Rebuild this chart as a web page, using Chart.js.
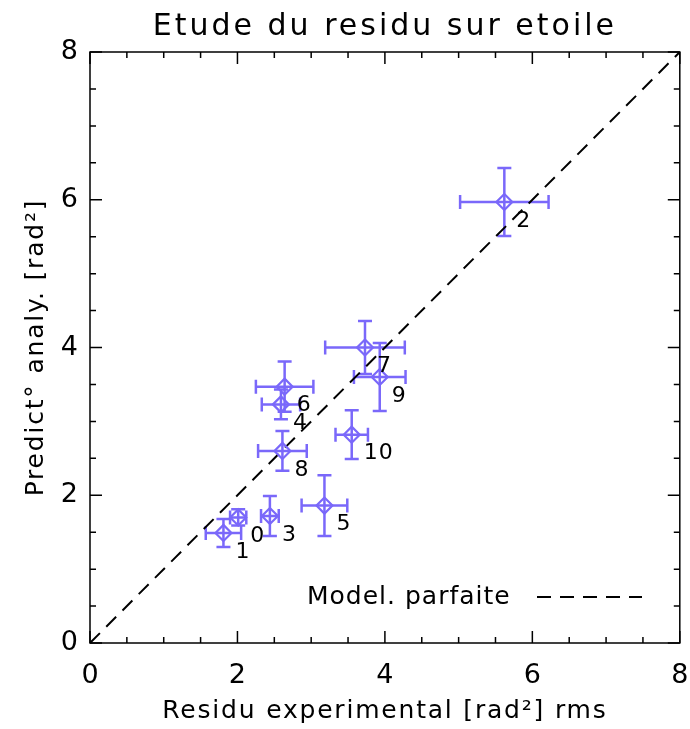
<!DOCTYPE html>
<html>
<head>
<meta charset="utf-8">
<script src="https://cdn.jsdelivr.net/npm/chart.js@4"></script>
<style>
  html, body { margin: 0; padding: 0; background: #fff; }
  #wrap { width: 690px; height: 729px; }
</style>
</head>
<body>
<div id="wrap"><canvas id="chart"></canvas></div>
<script>
// star index, measured residual (x), analytical prediction (y), error bars
const starIds = ['0', '1', '2', '3', '4', '5', '6', '7', '8', '9', '10'];
const residuX = [2.01, 1.81, 5.62, 2.44, 2.59, 3.18, 2.64, 3.73, 2.61, 3.93, 3.55];
const predictY = [1.70, 1.49, 5.97, 1.72, 3.23, 1.86, 3.47, 4.00, 2.60, 3.60, 2.82];
const errX = [0.11, 0.24, 0.60, 0.12, 0.26, 0.31, 0.39, 0.54, 0.33, 0.35, 0.22];
const errY = [0.11, 0.19, 0.46, 0.27, 0.20, 0.41, 0.34, 0.36, 0.27, 0.46, 0.33];
const perfectLine = [0, 8];
const majorTicks = [0, 2, 4, 6, 8];

const titleText = 'Etude du residu sur etoile';
const xTitle = 'Residu experimental [rad\u00B2] rms';
const yTitle = 'Predict\u00B0 analy. [rad\u00B2]';
const legendText = 'Model. parfaite';

const purple = 'rgb(122,104,250)';
const FONT = '"DejaVu Sans", sans-serif';

const points = residuX.map((x, i) => ({ x: x, y: predictY[i] }));

// IDL-like frame with inward ticks, error bars, labels and legend
const idlPlugin = {
    id: 'idl',
    beforeDatasetsDraw(chart) {
        const ctx = chart.ctx;
        const xs = chart.scales.x, ys = chart.scales.y;
        ctx.save();
        ctx.strokeStyle = purple;
        ctx.lineWidth = 2.5;
        const cap = 7;
        points.forEach((p, i) => {
            const px = xs.getPixelForValue(p.x), py = ys.getPixelForValue(p.y);
            const x0 = xs.getPixelForValue(p.x - errX[i]), x1 = xs.getPixelForValue(p.x + errX[i]);
            const y0 = ys.getPixelForValue(p.y - errY[i]), y1 = ys.getPixelForValue(p.y + errY[i]);
            ctx.beginPath();
            ctx.moveTo(x0, py); ctx.lineTo(x1, py);
            ctx.moveTo(x0, py - cap); ctx.lineTo(x0, py + cap);
            ctx.moveTo(x1, py - cap); ctx.lineTo(x1, py + cap);
            ctx.moveTo(px, y0); ctx.lineTo(px, y1);
            ctx.moveTo(px - cap, y0); ctx.lineTo(px + cap, y0);
            ctx.moveTo(px - cap, y1); ctx.lineTo(px + cap, y1);
            ctx.stroke();
        });
        ctx.restore();
    },
    afterDraw(chart) {
        const ctx = chart.ctx;
        const a = chart.chartArea;
        const xs = chart.scales.x, ys = chart.scales.y;
        ctx.save();
        // frame
        ctx.strokeStyle = '#000';
        ctx.lineWidth = 1.5;
        ctx.strokeRect(a.left, a.top, a.right - a.left, a.bottom - a.top);
        // inward ticks on all four sides
        ctx.beginPath();
        xs.ticks.forEach(t => {
            const px = xs.getPixelForValue(t.value);
            const len = majorTicks.includes(t.value) ? 12 : 6;
            ctx.moveTo(px, a.bottom); ctx.lineTo(px, a.bottom - len);
            ctx.moveTo(px, a.top); ctx.lineTo(px, a.top + len);
        });
        ys.ticks.forEach(t => {
            const py = ys.getPixelForValue(t.value);
            const len = majorTicks.includes(t.value) ? 12 : 6;
            ctx.moveTo(a.left, py); ctx.lineTo(a.left + len, py);
            ctx.moveTo(a.right, py); ctx.lineTo(a.right - len, py);
        });
        ctx.stroke();

        ctx.fillStyle = '#000';
        // point labels
        ctx.font = '22px ' + FONT;
        ctx.letterSpacing = '1px';
        ctx.textAlign = 'left';
        ctx.textBaseline = 'middle';
        points.forEach((p, i) => {
            const px = xs.getPixelForValue(p.x), py = ys.getPixelForValue(p.y);
            ctx.fillText(starIds[i], px + 12, py + 19);
        });

        // title
        ctx.textBaseline = 'alphabetic';
        ctx.textAlign = 'center';
        ctx.font = '30px ' + FONT;
        ctx.letterSpacing = '3px';
        ctx.fillText(titleText, (a.left + a.right) / 2, 35);

        // axis titles
        ctx.font = '25px ' + FONT;
        ctx.letterSpacing = '1.8px';
        ctx.fillText(xTitle, (a.left + a.right) / 2, 718);
        ctx.save();
        ctx.translate(43, (a.top + a.bottom) / 2);
        ctx.rotate(-Math.PI / 2);
        ctx.fillText(yTitle, 0, 0);
        ctx.restore();

        // legend
        ctx.font = '25px ' + FONT;
        ctx.letterSpacing = '1px';
        ctx.textAlign = 'left';
        ctx.fillText(legendText, a.left + 217, 604);
        ctx.beginPath();
        ctx.setLineDash([14, 9]);
        ctx.lineWidth = 2;
        ctx.moveTo(a.left + 447, 597);
        ctx.lineTo(a.left + 552, 597);
        ctx.stroke();
        ctx.restore();
    }
};

new Chart(document.getElementById('chart'), {
    type: 'scatter',
    data: {
        datasets: [
            {
                label: 'Etoiles',
                data: points,
                pointStyle: 'rectRot',
                pointRadius: 8,
                pointBorderWidth: 2.2,
                pointBorderColor: purple,
                pointBackgroundColor: 'rgba(0,0,0,0)',
                showLine: false
            },
            {
                label: legendText,
                type: 'line',
                data: perfectLine.map(v => ({ x: v, y: v })),
                borderColor: '#000',
                borderWidth: 2,
                borderDash: [14, 9],
                pointRadius: 0,
                fill: false
            }
        ]
    },
    options: {
        responsive: true,
        maintainAspectRatio: false,
        animation: false,
        layout: { padding: { top: 52, right: 10, left: 0, bottom: 0 } },
        plugins: {
            legend: { display: false },
            tooltip: { enabled: false }
        },
        scales: {
            x: {
                type: 'linear',
                min: 0,
                max: 8,
                afterFit: s => { s.height = 86; s.paddingLeft = 0; s.paddingRight = 0; },
                grid: { display: false, drawTicks: false },
                border: { display: false },
                ticks: {
                    stepSize: 0.5,
                    autoSkip: false,
                    maxRotation: 0,
                    padding: 17,
                    color: '#000',
                    font: { family: FONT, size: 27 },
                    callback: v => (majorTicks.includes(v) ? String(v) : '')
                }
            },
            y: {
                type: 'linear',
                min: 0,
                max: 8,
                afterFit: s => { s.width = 90; s.paddingTop = 0; s.paddingBottom = 0; },
                grid: { display: false, drawTicks: false },
                border: { display: false },
                ticks: {
                    stepSize: 0.5,
                    autoSkip: false,
                    padding: 12,
                    color: '#000',
                    font: { family: FONT, size: 27 },
                    callback: v => (majorTicks.includes(v) ? String(v) : '')
                }
            }
        }
    },
    plugins: [idlPlugin]
});
</script>
</body>
</html>
